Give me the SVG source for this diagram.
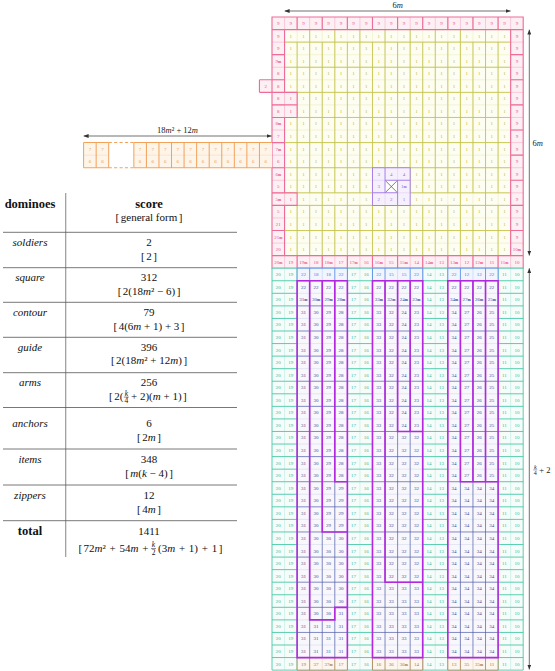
<svg xmlns="http://www.w3.org/2000/svg" width="555" height="671" viewBox="0 0 555 671">
<defs>
<style>
text{font-family:"Liberation Serif","Times New Roman",serif}
.tb{font-size:11px;text-anchor:middle;fill:#111}
.hd{font-weight:bold;font-size:12.5px}
.i{font-style:italic}
.fr{font-size:7.5px;text-anchor:middle}
.dim{stroke:#333;stroke-width:.7;fill:none;marker-start:url(#ah);marker-end:url(#ah)}
.lab{font-size:8.5px;fill:#222}
.c text{font-size:5px;text-anchor:middle}
.s{font-size:3.8px;font-weight:bold}
.p{fill:#e8558a}
.y{fill:#b9b93e}
.o{fill:#ee9643}
.v{fill:#9a6be0}
.t{fill:#38b998}
.b{fill:#4a7be4}
.n{fill:#444a98}
.w{fill:#a4784a}
.fp{fill:#fdf0f4}
.fy{fill:#fdfdf1}
.fo{fill:#fef5ea}
.fv{fill:#f6f0fd}
.ft{fill:#f5fcfa}
.fa{fill:#f7f7fc}
.fb{fill:#f1f5fe}
.fw{fill:#fcf6ef}
.k{fill:none}
.pt{stroke:#f6a9c2;stroke-width:.045px}
.pk{stroke:#ee6c97;stroke-width:.09px}
.yt{stroke:#e8e8b4;stroke-width:.035px}
.yk{stroke:#c4c44c;stroke-width:.07px}
.ot{stroke:#f8cfa4;stroke-width:.035px}
.ok{stroke:#f2a259;stroke-width:.08px}
.od{stroke:#f2a259;stroke-width:.08px;stroke-dasharray:.25px .18px}
.vt{stroke:#d3c0f4;stroke-width:.035px}
.vk{stroke:#a77fe8;stroke-width:.08px}
.xk{stroke:#555;stroke-width:.06px}
.tt{stroke:#a9e6d5;stroke-width:.035px}
.tk{stroke:#45c7a5;stroke-width:.07px}
.at{stroke:#c9cce9;stroke-width:.032px}
.ak{stroke:#4b57a8;stroke-width:.055px}
.pu{stroke:#b327de;stroke-width:.13px}
.bt{stroke:#a9c2f3;stroke-width:.035px}
.bk{stroke:#5c8ce8;stroke-width:.07px}
.wt{stroke:#dcc3a6;stroke-width:.035px}
.wk{stroke:#b3895c;stroke-width:.07px}
</style>
<marker id="ah" viewBox="0 0 10 8" refX="10" refY="4" markerWidth="5" markerHeight="4" orient="auto-start-reverse" markerUnits="userSpaceOnUse"><path d="M0 0L10 4L0 8Z" fill="#333"/></marker>
<g id="armln">
<path class="k at" d="M0 22H4M0 24H4M0 26H4M0 28H4M0 30H4M0 32H4M0 34H4M0 36H4M0 38H4M0 40H4M0 42H4M0 44H4M0 46H4M0 48H4M0 50H4"/>
<path class="k ak" d="M1 21V51M2 21V51M3 21V51M0 23H4M0 25H4M0 27H4M0 29H4M0 31H4M0 33H4M0 35H4M0 37H4M0 39H4M0 41H4M0 43H4M0 45H4M0 47H4M0 49H4"/>
</g>
<g id="blu"><rect class="fb" x="0" y="20" width="4" height="1"/><path class="k bt" d="M2 20V21"/><path class="k bk" d="M0 20H4V21H0ZM1 20V21M3 20V21"/></g>
<g id="brn"><rect class="fw" x="0" y="51" width="4" height="1"/><path class="k wt" d="M2 51V52"/><path class="k wk" d="M0 51H4V52H0ZM1 51V52M3 51V52"/></g>
</defs>
<rect width="555" height="671" fill="#fff"/>
<g id="grid" transform="translate(272 17) scale(12.56)">
<g id="contour">
<rect class="fp" x="0" y="0" width="20" height="20"/>
<path class="k pt" d="M1 0V20M2 0V20M3 0V20M4 0V20M5 0V20M6 0V20M7 0V20M8 0V20M9 0V20M10 0V20M11 0V20M12 0V20M13 0V20M14 0V20M15 0V20M16 0V20M17 0V20M18 0V20M19 0V20M0 1H20M0 2H20M0 3H20M0 4H20M0 5H20M0 6H20M0 7H20M0 8H20M0 9H20M0 10H20M0 11H20M0 12H20M0 13H20M0 14H20M0 15H20M0 16H20M0 17H20M0 18H20M0 19H20"/>
</g>
<g id="square">
<rect class="fy" x="1" y="1" width="18" height="18"/>
<path class="k yt" d="M2 1V19M3 1V19M4 1V19M5 1V19M6 1V19M7 1V19M8 1V19M9 1V19M10 1V19M11 1V19M12 1V19M13 1V19M14 1V19M15 1V19M16 1V19M17 1V19M18 1V19M1 2H19M1 3H19M1 4H19M1 5H19M1 6H19M1 7H19M1 8H19M1 9H19M1 10H19M1 11H19M1 12H19M1 13H19M1 14H19M1 15H19M1 16H19M1 17H19M1 18H19"/>
<path class="k yk" d="M1 2H19M1 4H19M1 6H19M1 8H19M1 10H19M1 12H19M1 14H19M1 15H19M1 17H19M2 2V14M3 2V14M4 2V14M5 2V14M6 2V14M7 2V14M8 2V14M9 2V14M10 2V14M11 2V14M12 2V14M13 2V14M14 2V14M15 2V14M16 2V14M17 2V14M18 2V14M2 15V19M3 15V19M4 15V19M5 15V19M6 15V19M7 15V19M8 15V19M9 15V19M10 15V19M11 15V19M12 15V19M13 15V19M14 15V19M15 15V19M16 15V19M17 15V19M18 15V19M3 1V2M5 1V2M7 1V2M9 1V2M11 1V2M13 1V2M15 1V2M17 1V2M4 14V15M6 14V15M13 14V15M15 14V15M17 14V15"/>
</g>
<g id="contour-edge">
<rect class="fp" x="1" y="6" width="1" height="2"/><rect class="fp" x="1" y="14" width="1" height="1"/><rect class="fp" x="-1" y="5" width="1" height="1"/>
<path class="k pt" d="M1 6V8M1 14V15"/>
<path class="k pk" d="M0 0H20V20H0ZM1 1V6H2V8H1V14H2V15H1V19H19V1ZM2 0V1M4 0V1M6 0V1M8 0V1M10 0V1M12 0V1M14 0V1M16 0V1M18 0V1M2 19V20M4 19V20M6 19V20M8 19V20M10 19V20M12 19V20M14 19V20M16 19V20M18 19V20M19 1H20M19 3H20M19 5H20M19 7H20M19 9H20M19 11H20M19 13H20M19 15H20M19 17H20M19 19H20M0 1H1M0 3H1M-1 5H1M-1 6H2M0 7H2M0 8H2M0 10H1M0 12H1M0 14H2M0 15H2M0 17H1M0 19H1M-1 5V6"/>
</g>
<g id="soldiers">
<rect class="fv" x="8" y="12" width="3" height="3"/>
<rect fill="#fff" x="9" y="13" width="1" height="1"/>
<path class="k vt" d="M10 12V13M8 13H9M10 14H11M9 14V15"/>
<path class="k vk" d="M8 12H11V15H8ZM9 12V14M9 13H11M8 14H10M10 13V15"/>
<path class="k xk" d="M9.06 13.06L9.94 13.94M9.94 13.06L9.06 13.94"/>
</g>
<g id="guide">
<rect class="fo" x="-15" y="10" width="2" height="2"/><rect class="fo" x="-11" y="10" width="11" height="2"/>
<path class="k ot" d="M-15 11H-13M-11 11H0"/>
<path class="k ok" d="M-15 10H-13M-15 12H-13M-11 10H0M-11 12H0M-15 10V12M-14 10V12M-13 10V12M-11 10V12M-10 10V12M-9 10V12M-8 10V12M-7 10V12M-6 10V12M-5 10V12M-4 10V12M-3 10V12M-2 10V12M-1 10V12"/>
<path class="k od" d="M-13 10H-11M-13 12H-11"/>
</g>
<g id="lower-guide">
<rect class="ft" x="0" y="20" width="20" height="32"/>
<path class="k tt" d="M1 20V52M7 20V52M13 20V52M19 20V52"/>
<path class="k tk" d="M0 20H20V52H0ZM2 20V52M6 20V52M8 20V52M12 20V52M14 20V52M18 20V52M0 21H20M0 22H20M0 23H20M0 24H20M0 25H20M0 26H20M0 27H20M0 28H20M0 29H20M0 30H20M0 31H20M0 32H20M0 33H20M0 34H20M0 35H20M0 36H20M0 37H20M0 38H20M0 39H20M0 40H20M0 41H20M0 42H20M0 43H20M0 44H20M0 45H20M0 46H20M0 47H20M0 48H20M0 49H20M0 50H20M0 51H20"/>
</g>
<g id="arms">
<rect class="fa" x="2" y="21" width="4" height="30"/><rect class="fa" x="8" y="21" width="4" height="30"/><rect class="fa" x="14" y="21" width="4" height="30"/>
<use href="#armln" x="2"/><use href="#armln" x="8"/><use href="#armln" x="14"/>
</g>
<g id="arm-heads"><use href="#blu" x="2"/><use href="#blu" x="8"/><use href="#blu" x="14"/></g>
<g id="arm-feet"><use href="#brn" x="2"/><use href="#brn" x="8"/><use href="#brn" x="14"/></g>
<g id="arm-outlines">
<path class="k pu" d="M2 21H6V51H2ZM8 21H12V51H8ZM14 21H18V51H14ZM3 21V48H5V47H6M4 21V41H6M5 21V37H6M9 21V45H12M10 21V33H12M11 21V33M15 21V37H18M16 21V37M17 21V37"/>
</g>
</g>
<g id="cells" class="c">
<g transform="translate(0 25)" class="p"><text x="278.3">9</text><text x="290.8">9</text><text x="303.4">9</text><text x="316">9</text><text x="328.5">9</text><text x="341.1">9</text><text x="353.6">9</text><text x="366.2">9</text><text x="378.8">9</text><text x="391.3">9</text><text x="403.9">9</text><text x="416.4">9</text><text x="429">9</text><text x="441.6">9</text><text x="454.1">9</text><text x="466.7">9</text><text x="479.2">9</text><text x="491.8">9</text><text x="504.4">9</text><text x="516.9">9</text></g>
<g transform="translate(0 37.56)"><g class="p"><text x="278.3">9</text><text x="516.9">9</text></g><g class="y"><text x="290.8">1</text><text x="303.4">1</text><text x="316">1</text><text x="328.5">1</text><text x="341.1">1</text><text x="353.6">1</text><text x="366.2">1</text><text x="378.8">1</text><text x="391.3">1</text><text x="403.9">1</text><text x="416.4">1</text><text x="429">1</text><text x="441.6">1</text><text x="454.1">1</text><text x="466.7">1</text><text x="479.2">1</text><text x="491.8">1</text><text x="504.4">1</text></g></g>
<g transform="translate(0 50.12)"><g class="p"><text x="278.3">9</text><text x="516.9">9</text></g><g class="y"><text x="290.8">1</text><text x="303.4">1</text><text x="316">1</text><text x="328.5">1</text><text x="341.1">1</text><text x="353.6">1</text><text x="366.2">1</text><text x="378.8">1</text><text x="391.3">1</text><text x="403.9">1</text><text x="416.4">1</text><text x="429">1</text><text x="441.6">1</text><text x="454.1">1</text><text x="466.7">1</text><text x="479.2">1</text><text x="491.8">1</text><text x="504.4">1</text></g></g>
<g transform="translate(0 62.68)"><g class="p"><text x="278.3">9<tspan class="s">m</tspan></text><text x="516.9">9</text></g><g class="y"><text x="290.8">1</text><text x="303.4">1</text><text x="316">1</text><text x="328.5">1</text><text x="341.1">1</text><text x="353.6">1</text><text x="366.2">1</text><text x="378.8">1</text><text x="391.3">1</text><text x="403.9">1</text><text x="416.4">1</text><text x="429">1</text><text x="441.6">1</text><text x="454.1">1</text><text x="466.7">1</text><text x="479.2">1</text><text x="491.8">1</text><text x="504.4">1</text></g></g>
<g transform="translate(0 75.24)"><g class="p"><text x="278.3">8</text><text x="516.9">9</text></g><g class="y"><text x="290.8">1</text><text x="303.4">1</text><text x="316">1</text><text x="328.5">1</text><text x="341.1">1</text><text x="353.6">1</text><text x="366.2">1</text><text x="378.8">1</text><text x="391.3">1</text><text x="403.9">1</text><text x="416.4">1</text><text x="429">1</text><text x="441.6">1</text><text x="454.1">1</text><text x="466.7">1</text><text x="479.2">1</text><text x="491.8">1</text><text x="504.4">1</text></g></g>
<g transform="translate(0 87.8)"><g class="p"><text x="265.7">2</text><text x="278.3">8</text><text x="516.9">9</text></g><g class="y"><text x="290.8">1</text><text x="303.4">1</text><text x="316">1</text><text x="328.5">1</text><text x="341.1">1</text><text x="353.6">1</text><text x="366.2">1</text><text x="378.8">1</text><text x="391.3">1</text><text x="403.9">1</text><text x="416.4">1</text><text x="429">1</text><text x="441.6">1</text><text x="454.1">1</text><text x="466.7">1</text><text x="479.2">1</text><text x="491.8">1</text><text x="504.4">1</text></g></g>
<g transform="translate(0 100.36)"><g class="p"><text x="278.3">8</text><text x="290.8">1</text><text x="516.9">9</text></g><g class="y"><text x="303.4">1</text><text x="316">1</text><text x="328.5">1</text><text x="341.1">1</text><text x="353.6">1</text><text x="366.2">1</text><text x="378.8">1</text><text x="391.3">1</text><text x="403.9">1</text><text x="416.4">1</text><text x="429">1</text><text x="441.6">1</text><text x="454.1">1</text><text x="466.7">1</text><text x="479.2">1</text><text x="491.8">1</text><text x="504.4">1</text></g></g>
<g transform="translate(0 112.92)"><g class="p"><text x="278.3">8</text><text x="290.8">1</text><text x="516.9">9</text></g><g class="y"><text x="303.4">1</text><text x="316">1</text><text x="328.5">1</text><text x="341.1">1</text><text x="353.6">1</text><text x="366.2">1</text><text x="378.8">1</text><text x="391.3">1</text><text x="403.9">1</text><text x="416.4">1</text><text x="429">1</text><text x="441.6">1</text><text x="454.1">1</text><text x="466.7">1</text><text x="479.2">1</text><text x="491.8">1</text><text x="504.4">1</text></g></g>
<g transform="translate(0 125.48)"><g class="p"><text x="278.3">8<tspan class="s">m</tspan></text><text x="516.9">9</text></g><g class="y"><text x="290.8">1</text><text x="303.4">1</text><text x="316">1</text><text x="328.5">1</text><text x="341.1">1</text><text x="353.6">1</text><text x="366.2">1</text><text x="378.8">1</text><text x="391.3">1</text><text x="403.9">1</text><text x="416.4">1</text><text x="429">1</text><text x="441.6">1</text><text x="454.1">1</text><text x="466.7">1</text><text x="479.2">1</text><text x="491.8">1</text><text x="504.4">1</text></g></g>
<g transform="translate(0 138.04)"><g class="p"><text x="278.3">7</text><text x="516.9">9</text></g><g class="y"><text x="290.8">1</text><text x="303.4">1</text><text x="316">1</text><text x="328.5">1</text><text x="341.1">1</text><text x="353.6">1</text><text x="366.2">1</text><text x="378.8">1</text><text x="391.3">1</text><text x="403.9">1</text><text x="416.4">1</text><text x="429">1</text><text x="441.6">1</text><text x="454.1">1</text><text x="466.7">1</text><text x="479.2">1</text><text x="491.8">1</text><text x="504.4">1</text></g></g>
<g transform="translate(0 150.6)"><g class="o"><text x="89.9">7</text><text x="102.5">7</text><text x="140.1">7</text><text x="152.7">7</text><text x="165.2">7</text><text x="177.8">7</text><text x="190.4">7</text><text x="202.9">7</text><text x="215.5">7</text><text x="228">7</text><text x="240.6">7</text><text x="253.2">7</text><text x="265.7">7</text></g><g class="p"><text x="278.3">7<tspan class="s">m</tspan></text><text x="516.9">9</text></g><g class="y"><text x="290.8">1</text><text x="303.4">1</text><text x="316">1</text><text x="328.5">1</text><text x="341.1">1</text><text x="353.6">1</text><text x="366.2">1</text><text x="378.8">1</text><text x="391.3">1</text><text x="403.9">1</text><text x="416.4">1</text><text x="429">1</text><text x="441.6">1</text><text x="454.1">1</text><text x="466.7">1</text><text x="479.2">1</text><text x="491.8">1</text><text x="504.4">1</text></g></g>
<g transform="translate(0 163.16)"><g class="o"><text x="89.9">6</text><text x="102.5">6</text><text x="140.1">6</text><text x="152.7">6</text><text x="165.2">6</text><text x="177.8">6</text><text x="190.4">6</text><text x="202.9">6</text><text x="215.5">6</text><text x="228">6</text><text x="240.6">6</text><text x="253.2">6</text><text x="265.7">6</text></g><g class="p"><text x="278.3">6</text><text x="516.9">9</text></g><g class="y"><text x="290.8">1</text><text x="303.4">1</text><text x="316">1</text><text x="328.5">1</text><text x="341.1">1</text><text x="353.6">1</text><text x="366.2">1</text><text x="378.8">1</text><text x="391.3">1</text><text x="403.9">1</text><text x="416.4">1</text><text x="429">1</text><text x="441.6">1</text><text x="454.1">1</text><text x="466.7">1</text><text x="479.2">1</text><text x="491.8">1</text><text x="504.4">1</text></g></g>
<g transform="translate(0 175.72)"><g class="p"><text x="278.3">6<tspan class="s">m</tspan></text><text x="516.9">9</text></g><g class="y"><text x="290.8">1</text><text x="303.4">1</text><text x="316">1</text><text x="328.5">1</text><text x="341.1">1</text><text x="353.6">1</text><text x="366.2">1</text><text x="416.4">1</text><text x="429">1</text><text x="441.6">1</text><text x="454.1">1</text><text x="466.7">1</text><text x="479.2">1</text><text x="491.8">1</text><text x="504.4">1</text></g><g class="v"><text x="378.8">3</text><text x="391.3">4</text><text x="403.9">4</text></g></g>
<g transform="translate(0 188.28)"><g class="p"><text x="278.3">5</text><text x="516.9">9</text></g><g class="y"><text x="290.8">1</text><text x="303.4">1</text><text x="316">1</text><text x="328.5">1</text><text x="341.1">1</text><text x="353.6">1</text><text x="366.2">1</text><text x="416.4">1</text><text x="429">1</text><text x="441.6">1</text><text x="454.1">1</text><text x="466.7">1</text><text x="479.2">1</text><text x="491.8">1</text><text x="504.4">1</text></g><g class="v"><text x="378.8">3</text><text x="403.9">1<tspan class="s">m</tspan></text></g></g>
<g transform="translate(0 200.84)"><g class="p"><text x="278.3">5<tspan class="s">m</tspan></text><text x="290.8">1</text><text x="516.9">9</text></g><g class="y"><text x="303.4">1</text><text x="316">1</text><text x="328.5">1</text><text x="341.1">1</text><text x="353.6">1</text><text x="366.2">1</text><text x="416.4">1</text><text x="429">1</text><text x="441.6">1</text><text x="454.1">1</text><text x="466.7">1</text><text x="479.2">1</text><text x="491.8">1</text><text x="504.4">1</text></g><g class="v"><text x="378.8">2</text><text x="391.3">2</text><text x="403.9">1</text></g></g>
<g transform="translate(0 213.4)"><g class="p"><text x="278.3">5</text><text x="516.9">9</text></g><g class="y"><text x="290.8">1</text><text x="303.4">1</text><text x="316">1</text><text x="328.5">1</text><text x="341.1">1</text><text x="353.6">1</text><text x="366.2">1</text><text x="378.8">1</text><text x="391.3">1</text><text x="403.9">1</text><text x="416.4">1</text><text x="429">1</text><text x="441.6">1</text><text x="454.1">1</text><text x="466.7">1</text><text x="479.2">1</text><text x="491.8">1</text><text x="504.4">1</text></g></g>
<g transform="translate(0 225.96)"><g class="p"><text x="278.3">21</text><text x="516.9">9</text></g><g class="y"><text x="290.8">1</text><text x="303.4">1</text><text x="316">1</text><text x="328.5">1</text><text x="341.1">1</text><text x="353.6">1</text><text x="366.2">1</text><text x="378.8">1</text><text x="391.3">1</text><text x="403.9">1</text><text x="416.4">1</text><text x="429">1</text><text x="441.6">1</text><text x="454.1">1</text><text x="466.7">1</text><text x="479.2">1</text><text x="491.8">1</text><text x="504.4">1</text></g></g>
<g transform="translate(0 238.52)"><g class="p"><text x="278.3">21<tspan class="s">m</tspan></text><text x="516.9">9</text></g><g class="y"><text x="290.8">1</text><text x="303.4">1</text><text x="316">1</text><text x="328.5">1</text><text x="341.1">1</text><text x="353.6">1</text><text x="366.2">1</text><text x="378.8">1</text><text x="391.3">1</text><text x="403.9">1</text><text x="416.4">1</text><text x="429">1</text><text x="441.6">1</text><text x="454.1">1</text><text x="466.7">1</text><text x="479.2">1</text><text x="491.8">1</text><text x="504.4">1</text></g></g>
<g transform="translate(0 251.08)"><g class="p"><text x="278.3">20</text><text x="516.9">10<tspan class="s">m</tspan></text></g><g class="y"><text x="290.8">1</text><text x="303.4">1</text><text x="316">1</text><text x="328.5">1</text><text x="341.1">1</text><text x="353.6">1</text><text x="366.2">1</text><text x="378.8">1</text><text x="391.3">1</text><text x="403.9">1</text><text x="416.4">1</text><text x="429">1</text><text x="441.6">1</text><text x="454.1">1</text><text x="466.7">1</text><text x="479.2">1</text><text x="491.8">1</text><text x="504.4">1</text></g></g>
<g transform="translate(0 263.64)" class="p"><text x="278.3">20<tspan class="s">m</tspan></text><text x="290.8">19</text><text x="303.4">19<tspan class="s">m</tspan></text><text x="316">18</text><text x="328.5">18<tspan class="s">m</tspan></text><text x="341.1">17</text><text x="353.6">17<tspan class="s">m</tspan></text><text x="366.2">16</text><text x="378.8">16<tspan class="s">m</tspan></text><text x="391.3">15</text><text x="403.9">15<tspan class="s">m</tspan></text><text x="416.4">14</text><text x="429">14<tspan class="s">m</tspan></text><text x="441.6">13</text><text x="454.1">13<tspan class="s">m</tspan></text><text x="466.7">12</text><text x="479.2">12<tspan class="s">m</tspan></text><text x="491.8">11</text><text x="504.4">11<tspan class="s">m</tspan></text><text x="516.9">10</text></g>
<g transform="translate(0 276.2)"><g class="t"><text x="278.3">20</text><text x="290.8">19</text><text x="353.6">17</text><text x="366.2">16</text><text x="429">14</text><text x="441.6">13</text><text x="504.4">11</text><text x="516.9">10</text></g><g class="b"><text x="303.4">22</text><text x="316">18</text><text x="328.5">18</text><text x="341.1">22</text><text x="378.8">22</text><text x="391.3">15</text><text x="403.9">15</text><text x="416.4">22</text><text x="454.1">22</text><text x="466.7">12</text><text x="479.2">12</text><text x="491.8">22</text></g></g>
<g transform="translate(0 288.76)"><g class="t"><text x="278.3">20</text><text x="290.8">19</text><text x="353.6">17</text><text x="366.2">16</text><text x="429">14</text><text x="441.6">13</text><text x="504.4">11</text><text x="516.9">10</text></g><g class="n"><text x="303.4">22</text><text x="316">22</text><text x="328.5">22</text><text x="341.1">22</text><text x="378.8">22</text><text x="391.3">22</text><text x="403.9">22</text><text x="416.4">22</text><text x="454.1">22</text><text x="466.7">22</text><text x="479.2">22</text><text x="491.8">22</text></g></g>
<g transform="translate(0 301.32)"><g class="t"><text x="278.3">20</text><text x="290.8">19</text><text x="353.6">17</text><text x="366.2">16</text><text x="429">14</text><text x="441.6">13</text><text x="504.4">11</text><text x="516.9">10</text></g><g class="n"><text x="303.4">31<tspan class="s">m</tspan></text><text x="316">30<tspan class="s">m</tspan></text><text x="328.5">29<tspan class="s">m</tspan></text><text x="341.1">28<tspan class="s">m</tspan></text><text x="378.8">33<tspan class="s">m</tspan></text><text x="391.3">32<tspan class="s">m</tspan></text><text x="403.9">24<tspan class="s">m</tspan></text><text x="416.4">23<tspan class="s">m</tspan></text><text x="454.1">34<tspan class="s">m</tspan></text><text x="466.7">27<tspan class="s">m</tspan></text><text x="479.2">26<tspan class="s">m</tspan></text><text x="491.8">25<tspan class="s">m</tspan></text></g></g>
<g transform="translate(0 313.88)"><g class="t"><text x="278.3">20</text><text x="290.8">19</text><text x="353.6">17</text><text x="366.2">16</text><text x="429">14</text><text x="441.6">13</text><text x="504.4">11</text><text x="516.9">10</text></g><g class="n"><text x="303.4">31</text><text x="316">30</text><text x="328.5">29</text><text x="341.1">28</text><text x="378.8">33</text><text x="391.3">32</text><text x="403.9">24</text><text x="416.4">23</text><text x="454.1">34</text><text x="466.7">27</text><text x="479.2">26</text><text x="491.8">25</text></g></g>
<g transform="translate(0 326.44)"><g class="t"><text x="278.3">20</text><text x="290.8">19</text><text x="353.6">17</text><text x="366.2">16</text><text x="429">14</text><text x="441.6">13</text><text x="504.4">11</text><text x="516.9">10</text></g><g class="n"><text x="303.4">31</text><text x="316">30</text><text x="328.5">29</text><text x="341.1">28</text><text x="378.8">33</text><text x="391.3">32</text><text x="403.9">24</text><text x="416.4">23</text><text x="454.1">34</text><text x="466.7">27</text><text x="479.2">26</text><text x="491.8">25</text></g></g>
<g transform="translate(0 339)"><g class="t"><text x="278.3">20</text><text x="290.8">19</text><text x="353.6">17</text><text x="366.2">16</text><text x="429">14</text><text x="441.6">13</text><text x="504.4">11</text><text x="516.9">10</text></g><g class="n"><text x="303.4">31</text><text x="316">30</text><text x="328.5">29</text><text x="341.1">28</text><text x="378.8">33</text><text x="391.3">32</text><text x="403.9">24</text><text x="416.4">23</text><text x="454.1">34</text><text x="466.7">27</text><text x="479.2">26</text><text x="491.8">25</text></g></g>
<g transform="translate(0 351.56)"><g class="t"><text x="278.3">20</text><text x="290.8">19</text><text x="353.6">17</text><text x="366.2">16</text><text x="429">14</text><text x="441.6">13</text><text x="504.4">11</text><text x="516.9">10</text></g><g class="n"><text x="303.4">31</text><text x="316">30</text><text x="328.5">29</text><text x="341.1">28</text><text x="378.8">33</text><text x="391.3">32</text><text x="403.9">24</text><text x="416.4">23</text><text x="454.1">34</text><text x="466.7">27</text><text x="479.2">26</text><text x="491.8">25</text></g></g>
<g transform="translate(0 364.12)"><g class="t"><text x="278.3">20</text><text x="290.8">19</text><text x="353.6">17</text><text x="366.2">16</text><text x="429">14</text><text x="441.6">13</text><text x="504.4">11</text><text x="516.9">10</text></g><g class="n"><text x="303.4">31</text><text x="316">30</text><text x="328.5">29</text><text x="341.1">28</text><text x="378.8">33</text><text x="391.3">32</text><text x="403.9">24</text><text x="416.4">23</text><text x="454.1">34</text><text x="466.7">27</text><text x="479.2">26</text><text x="491.8">25</text></g></g>
<g transform="translate(0 376.68)"><g class="t"><text x="278.3">20</text><text x="290.8">19</text><text x="353.6">17</text><text x="366.2">16</text><text x="429">14</text><text x="441.6">13</text><text x="504.4">11</text><text x="516.9">10</text></g><g class="n"><text x="303.4">31</text><text x="316">30</text><text x="328.5">29</text><text x="341.1">28</text><text x="378.8">33</text><text x="391.3">32</text><text x="403.9">24</text><text x="416.4">23</text><text x="454.1">34</text><text x="466.7">27</text><text x="479.2">26</text><text x="491.8">25</text></g></g>
<g transform="translate(0 389.24)"><g class="t"><text x="278.3">20</text><text x="290.8">19</text><text x="353.6">17</text><text x="366.2">16</text><text x="429">14</text><text x="441.6">13</text><text x="504.4">11</text><text x="516.9">10</text></g><g class="n"><text x="303.4">31</text><text x="316">30</text><text x="328.5">29</text><text x="341.1">28</text><text x="378.8">33</text><text x="391.3">32</text><text x="403.9">24</text><text x="416.4">23</text><text x="454.1">34</text><text x="466.7">27</text><text x="479.2">26</text><text x="491.8">25</text></g></g>
<g transform="translate(0 401.8)"><g class="t"><text x="278.3">20</text><text x="290.8">19</text><text x="353.6">17</text><text x="366.2">16</text><text x="429">14</text><text x="441.6">13</text><text x="504.4">11</text><text x="516.9">10</text></g><g class="n"><text x="303.4">31</text><text x="316">30</text><text x="328.5">29</text><text x="341.1">28</text><text x="378.8">33</text><text x="391.3">32</text><text x="403.9">24</text><text x="416.4">23</text><text x="454.1">34</text><text x="466.7">27</text><text x="479.2">26</text><text x="491.8">25</text></g></g>
<g transform="translate(0 414.36)"><g class="t"><text x="278.3">20</text><text x="290.8">19</text><text x="353.6">17</text><text x="366.2">16</text><text x="429">14</text><text x="441.6">13</text><text x="504.4">11</text><text x="516.9">10</text></g><g class="n"><text x="303.4">31</text><text x="316">30</text><text x="328.5">29</text><text x="341.1">28</text><text x="378.8">33</text><text x="391.3">32</text><text x="403.9">24</text><text x="416.4">23</text><text x="454.1">34</text><text x="466.7">27</text><text x="479.2">26</text><text x="491.8">25</text></g></g>
<g transform="translate(0 426.92)"><g class="t"><text x="278.3">20</text><text x="290.8">19</text><text x="353.6">17</text><text x="366.2">16</text><text x="429">14</text><text x="441.6">13</text><text x="504.4">11</text><text x="516.9">10</text></g><g class="n"><text x="303.4">31</text><text x="316">30</text><text x="328.5">29</text><text x="341.1">28</text><text x="378.8">33</text><text x="391.3">32</text><text x="403.9">24</text><text x="416.4">23</text><text x="454.1">34</text><text x="466.7">27</text><text x="479.2">26</text><text x="491.8">25</text></g></g>
<g transform="translate(0 439.48)"><g class="t"><text x="278.3">20</text><text x="290.8">19</text><text x="353.6">17</text><text x="366.2">16</text><text x="429">14</text><text x="441.6">13</text><text x="504.4">11</text><text x="516.9">10</text></g><g class="n"><text x="303.4">31</text><text x="316">30</text><text x="328.5">29</text><text x="341.1">28</text><text x="378.8">33</text><text x="391.3">32</text><text x="403.9">32</text><text x="416.4">32</text><text x="454.1">34</text><text x="466.7">27</text><text x="479.2">26</text><text x="491.8">25</text></g></g>
<g transform="translate(0 452.04)"><g class="t"><text x="278.3">20</text><text x="290.8">19</text><text x="353.6">17</text><text x="366.2">16</text><text x="429">14</text><text x="441.6">13</text><text x="504.4">11</text><text x="516.9">10</text></g><g class="n"><text x="303.4">31</text><text x="316">30</text><text x="328.5">29</text><text x="341.1">28</text><text x="378.8">33</text><text x="391.3">32</text><text x="403.9">32</text><text x="416.4">32</text><text x="454.1">34</text><text x="466.7">27</text><text x="479.2">26</text><text x="491.8">25</text></g></g>
<g transform="translate(0 464.6)"><g class="t"><text x="278.3">20</text><text x="290.8">19</text><text x="353.6">17</text><text x="366.2">16</text><text x="429">14</text><text x="441.6">13</text><text x="504.4">11</text><text x="516.9">10</text></g><g class="n"><text x="303.4">31</text><text x="316">30</text><text x="328.5">29</text><text x="341.1">28</text><text x="378.8">33</text><text x="391.3">32</text><text x="403.9">32</text><text x="416.4">32</text><text x="454.1">34</text><text x="466.7">27</text><text x="479.2">26</text><text x="491.8">25</text></g></g>
<g transform="translate(0 477.16)"><g class="t"><text x="278.3">20</text><text x="290.8">19</text><text x="353.6">17</text><text x="366.2">16</text><text x="429">14</text><text x="441.6">13</text><text x="504.4">11</text><text x="516.9">10</text></g><g class="n"><text x="303.4">31</text><text x="316">30</text><text x="328.5">29</text><text x="341.1">28</text><text x="378.8">33</text><text x="391.3">32</text><text x="403.9">32</text><text x="416.4">32</text><text x="454.1">34</text><text x="466.7">27</text><text x="479.2">26</text><text x="491.8">25</text></g></g>
<g transform="translate(0 489.72)"><g class="t"><text x="278.3">20</text><text x="290.8">19</text><text x="353.6">17</text><text x="366.2">16</text><text x="429">14</text><text x="441.6">13</text><text x="504.4">11</text><text x="516.9">10</text></g><g class="n"><text x="303.4">31</text><text x="316">30</text><text x="328.5">29</text><text x="341.1">29</text><text x="378.8">33</text><text x="391.3">32</text><text x="403.9">32</text><text x="416.4">32</text><text x="454.1">34</text><text x="466.7">34</text><text x="479.2">34</text><text x="491.8">34</text></g></g>
<g transform="translate(0 502.28)"><g class="t"><text x="278.3">20</text><text x="290.8">19</text><text x="353.6">17</text><text x="366.2">16</text><text x="429">14</text><text x="441.6">13</text><text x="504.4">11</text><text x="516.9">10</text></g><g class="n"><text x="303.4">31</text><text x="316">30</text><text x="328.5">29</text><text x="341.1">29</text><text x="378.8">33</text><text x="391.3">32</text><text x="403.9">32</text><text x="416.4">32</text><text x="454.1">34</text><text x="466.7">34</text><text x="479.2">34</text><text x="491.8">34</text></g></g>
<g transform="translate(0 514.84)"><g class="t"><text x="278.3">20</text><text x="290.8">19</text><text x="353.6">17</text><text x="366.2">16</text><text x="429">14</text><text x="441.6">13</text><text x="504.4">11</text><text x="516.9">10</text></g><g class="n"><text x="303.4">31</text><text x="316">30</text><text x="328.5">29</text><text x="341.1">29</text><text x="378.8">33</text><text x="391.3">32</text><text x="403.9">32</text><text x="416.4">32</text><text x="454.1">34</text><text x="466.7">34</text><text x="479.2">34</text><text x="491.8">34</text></g></g>
<g transform="translate(0 527.4)"><g class="t"><text x="278.3">20</text><text x="290.8">19</text><text x="353.6">17</text><text x="366.2">16</text><text x="429">14</text><text x="441.6">13</text><text x="504.4">11</text><text x="516.9">10</text></g><g class="n"><text x="303.4">31</text><text x="316">30</text><text x="328.5">29</text><text x="341.1">29</text><text x="378.8">33</text><text x="391.3">32</text><text x="403.9">32</text><text x="416.4">32</text><text x="454.1">34</text><text x="466.7">34</text><text x="479.2">34</text><text x="491.8">34</text></g></g>
<g transform="translate(0 539.96)"><g class="t"><text x="278.3">20</text><text x="290.8">19</text><text x="353.6">17</text><text x="366.2">16</text><text x="429">14</text><text x="441.6">13</text><text x="504.4">11</text><text x="516.9">10</text></g><g class="n"><text x="303.4">31</text><text x="316">30</text><text x="328.5">30</text><text x="341.1">30</text><text x="378.8">33</text><text x="391.3">32</text><text x="403.9">32</text><text x="416.4">32</text><text x="454.1">34</text><text x="466.7">34</text><text x="479.2">34</text><text x="491.8">34</text></g></g>
<g transform="translate(0 552.52)"><g class="t"><text x="278.3">20</text><text x="290.8">19</text><text x="353.6">17</text><text x="366.2">16</text><text x="429">14</text><text x="441.6">13</text><text x="504.4">11</text><text x="516.9">10</text></g><g class="n"><text x="303.4">31</text><text x="316">30</text><text x="328.5">30</text><text x="341.1">30</text><text x="378.8">33</text><text x="391.3">32</text><text x="403.9">32</text><text x="416.4">32</text><text x="454.1">34</text><text x="466.7">34</text><text x="479.2">34</text><text x="491.8">34</text></g></g>
<g transform="translate(0 565.08)"><g class="t"><text x="278.3">20</text><text x="290.8">19</text><text x="353.6">17</text><text x="366.2">16</text><text x="429">14</text><text x="441.6">13</text><text x="504.4">11</text><text x="516.9">10</text></g><g class="n"><text x="303.4">31</text><text x="316">30</text><text x="328.5">30</text><text x="341.1">30</text><text x="378.8">33</text><text x="391.3">32</text><text x="403.9">32</text><text x="416.4">32</text><text x="454.1">34</text><text x="466.7">34</text><text x="479.2">34</text><text x="491.8">34</text></g></g>
<g transform="translate(0 577.64)"><g class="t"><text x="278.3">20</text><text x="290.8">19</text><text x="353.6">17</text><text x="366.2">16</text><text x="429">14</text><text x="441.6">13</text><text x="504.4">11</text><text x="516.9">10</text></g><g class="n"><text x="303.4">31</text><text x="316">30</text><text x="328.5">30</text><text x="341.1">30</text><text x="378.8">33</text><text x="391.3">32</text><text x="403.9">32</text><text x="416.4">32</text><text x="454.1">34</text><text x="466.7">34</text><text x="479.2">34</text><text x="491.8">34</text></g></g>
<g transform="translate(0 590.2)"><g class="t"><text x="278.3">20</text><text x="290.8">19</text><text x="353.6">17</text><text x="366.2">16</text><text x="429">14</text><text x="441.6">13</text><text x="504.4">11</text><text x="516.9">10</text></g><g class="n"><text x="303.4">31</text><text x="316">30</text><text x="328.5">30</text><text x="341.1">30</text><text x="378.8">33</text><text x="391.3">33</text><text x="403.9">33</text><text x="416.4">33</text><text x="454.1">34</text><text x="466.7">34</text><text x="479.2">34</text><text x="491.8">34</text></g></g>
<g transform="translate(0 602.76)"><g class="t"><text x="278.3">20</text><text x="290.8">19</text><text x="353.6">17</text><text x="366.2">16</text><text x="429">14</text><text x="441.6">13</text><text x="504.4">11</text><text x="516.9">10</text></g><g class="n"><text x="303.4">31</text><text x="316">30</text><text x="328.5">30</text><text x="341.1">30</text><text x="378.8">33</text><text x="391.3">33</text><text x="403.9">33</text><text x="416.4">33</text><text x="454.1">34</text><text x="466.7">34</text><text x="479.2">34</text><text x="491.8">34</text></g></g>
<g transform="translate(0 615.32)"><g class="t"><text x="278.3">20</text><text x="290.8">19</text><text x="353.6">17</text><text x="366.2">16</text><text x="429">14</text><text x="441.6">13</text><text x="504.4">11</text><text x="516.9">10</text></g><g class="n"><text x="303.4">31</text><text x="316">30</text><text x="328.5">30</text><text x="341.1">31</text><text x="378.8">33</text><text x="391.3">33</text><text x="403.9">33</text><text x="416.4">33</text><text x="454.1">34</text><text x="466.7">34</text><text x="479.2">34</text><text x="491.8">34</text></g></g>
<g transform="translate(0 627.88)"><g class="t"><text x="278.3">20</text><text x="290.8">19</text><text x="353.6">17</text><text x="366.2">16</text><text x="429">14</text><text x="441.6">13</text><text x="504.4">11</text><text x="516.9">10</text></g><g class="n"><text x="303.4">31</text><text x="316">31</text><text x="328.5">31</text><text x="341.1">31</text><text x="378.8">33</text><text x="391.3">33</text><text x="403.9">33</text><text x="416.4">33</text><text x="454.1">34</text><text x="466.7">34</text><text x="479.2">34</text><text x="491.8">34</text></g></g>
<g transform="translate(0 640.44)"><g class="t"><text x="278.3">20</text><text x="290.8">19</text><text x="353.6">17</text><text x="366.2">16</text><text x="429">14</text><text x="441.6">13</text><text x="504.4">11</text><text x="516.9">10</text></g><g class="n"><text x="303.4">31</text><text x="316">31</text><text x="328.5">31</text><text x="341.1">31</text><text x="378.8">33</text><text x="391.3">33</text><text x="403.9">33</text><text x="416.4">33</text><text x="454.1">34</text><text x="466.7">34</text><text x="479.2">34</text><text x="491.8">34</text></g></g>
<g transform="translate(0 653)"><g class="t"><text x="278.3">20</text><text x="290.8">19</text><text x="353.6">17</text><text x="366.2">16</text><text x="429">14</text><text x="441.6">13</text><text x="504.4">11</text><text x="516.9">10</text></g><g class="n"><text x="303.4">31</text><text x="316">31</text><text x="328.5">31</text><text x="341.1">31</text><text x="378.8">33</text><text x="391.3">33</text><text x="403.9">33</text><text x="416.4">33</text><text x="454.1">34</text><text x="466.7">34</text><text x="479.2">34</text><text x="491.8">34</text></g></g>
<g transform="translate(0 665.56)"><g class="t"><text x="278.3">20</text><text x="290.8">19</text><text x="353.6">17</text><text x="366.2">16</text><text x="429">14</text><text x="441.6">13</text><text x="504.4">11</text><text x="516.9">10</text></g><g class="w"><text x="303.4">19</text><text x="316">37</text><text x="328.5">37<tspan class="s">m</tspan></text><text x="341.1">17</text><text x="378.8">16</text><text x="391.3">36</text><text x="403.9">36<tspan class="s">m</tspan></text><text x="416.4">14</text><text x="454.1">13</text><text x="466.7">35</text><text x="479.2">35<tspan class="s">m</tspan></text><text x="491.8">11</text></g></g>
</g>
<g id="connectors">
<path class="dim" d="M284.6 11H510.6"/>
<path class="dim" d="M529.3 29.6V255.6"/>
<path class="dim" d="M529.3 268.2V669.5"/>
<path class="dim" d="M83.6 136H271.6"/>
</g>
<g id="labels">
<text class="lab" x="397.6" y="8.3" text-anchor="middle">6<tspan class="i">m</tspan></text>
<text class="lab" x="532.5" y="146">6<tspan class="i">m</tspan></text>
<text class="lab" x="177.5" y="133.3" text-anchor="middle">18<tspan class="i">m</tspan>² + 12<tspan class="i">m</tspan></text>
<text class="lab i" x="535.3" y="468.6" text-anchor="middle" style="font-size:6px">k</text>
<path d="M533.3 469.9H537.3" stroke="#222" stroke-width=".45"/>
<text class="lab" x="535.3" y="474.8" text-anchor="middle" style="font-size:6px">4</text>
<text class="lab" x="539.3" y="472.6">+ 2</text>
</g>
<g id="table">
<path d="M65.7 193V557" stroke="#9a9a9a" stroke-width="1.2"/>
<path d="M3 232.3H237M3 267.7H237M3 302.3H237M3 337.3H237M3 372.7H237M3 407.5H237M3 449H237M3 485H237M3 520.7H237" stroke="#555" stroke-width=".8"/>
<g class="tb">
<text class="hd" x="30" y="208">dominoes</text>
<text class="hd" x="149" y="208">score</text>
<text x="149" y="220.5">[<tspan dx="1.5">general form</tspan><tspan dx="1.5">]</tspan></text>
<text class="i" x="30" y="246">soldiers</text>
<text x="149" y="246">2</text>
<text x="149" y="259.5">[<tspan dx="1.5">2</tspan><tspan dx="1.5">]</tspan></text>
<text class="i" x="30" y="281">square</text>
<text x="149" y="281">312</text>
<text x="149" y="294.5">[<tspan dx="1.5">2(18<tspan class="i">m</tspan>² − 6)</tspan><tspan dx="1.5">]</tspan></text>
<text class="i" x="30" y="316">contour</text>
<text x="149" y="316">79</text>
<text x="149" y="329.5">[<tspan dx="1.5">4(6<tspan class="i">m</tspan> + 1) + 3</tspan><tspan dx="1.5">]</tspan></text>
<text class="i" x="30" y="350.5">guide</text>
<text x="149" y="350.5">396</text>
<text x="149" y="364">[<tspan dx="1.5">2(18<tspan class="i">m</tspan>² + 12<tspan class="i">m</tspan>)</tspan><tspan dx="1.5">]</tspan></text>
<text class="i" x="30" y="386">arms</text>
<text x="149" y="386">256</text>
<text x="123.3" y="400" style="text-anchor:end">[<tspan dx="1.5">2(</tspan></text>
<text class="fr i" x="126.3" y="395.7">k</text>
<path d="M123.8 397.1H128.8" stroke="#111" stroke-width=".5"/>
<text class="fr" x="126.3" y="403.4">4</text>
<text x="131" y="400" style="text-anchor:start">+ 2)(<tspan class="i">m</tspan> + 1)<tspan dx="1.5">]</tspan></text>
<text class="i" x="30" y="426.5">anchors</text>
<text x="149" y="426.5">6</text>
<text x="149" y="441">[<tspan dx="1.5">2<tspan class="i">m</tspan></tspan><tspan dx="1.5">]</tspan></text>
<text class="i" x="30" y="462.5">items</text>
<text x="149" y="462.5">348</text>
<text x="149" y="477">[<tspan dx="1.5" class="i">m</tspan>(<tspan class="i">k</tspan> − 4)<tspan dx="1.5">]</tspan></text>
<text class="i" x="30" y="499">zippers</text>
<text x="149" y="499">12</text>
<text x="149" y="512.5">[<tspan dx="1.5">4<tspan class="i">m</tspan></tspan><tspan dx="1.5">]</tspan></text>
<text class="hd" x="30" y="535">total</text>
<text x="149" y="535">1411</text>
<text x="148.5" y="551.5" style="text-anchor:end;word-spacing:1px">[<tspan dx="1.5">72<tspan class="i">m</tspan>² + 54<tspan class="i">m</tspan> +</tspan></text>
<text class="fr i" x="153.5" y="547.2">k</text>
<path d="M151 548.6H156" stroke="#111" stroke-width=".5"/>
<text class="fr" x="153.5" y="554.9">2</text>
<text x="158" y="551.5" style="text-anchor:start;word-spacing:1px">(3<tspan class="i">m</tspan> + 1) + 1<tspan dx="1.5">]</tspan></text>
</g>
</g>
</svg>
